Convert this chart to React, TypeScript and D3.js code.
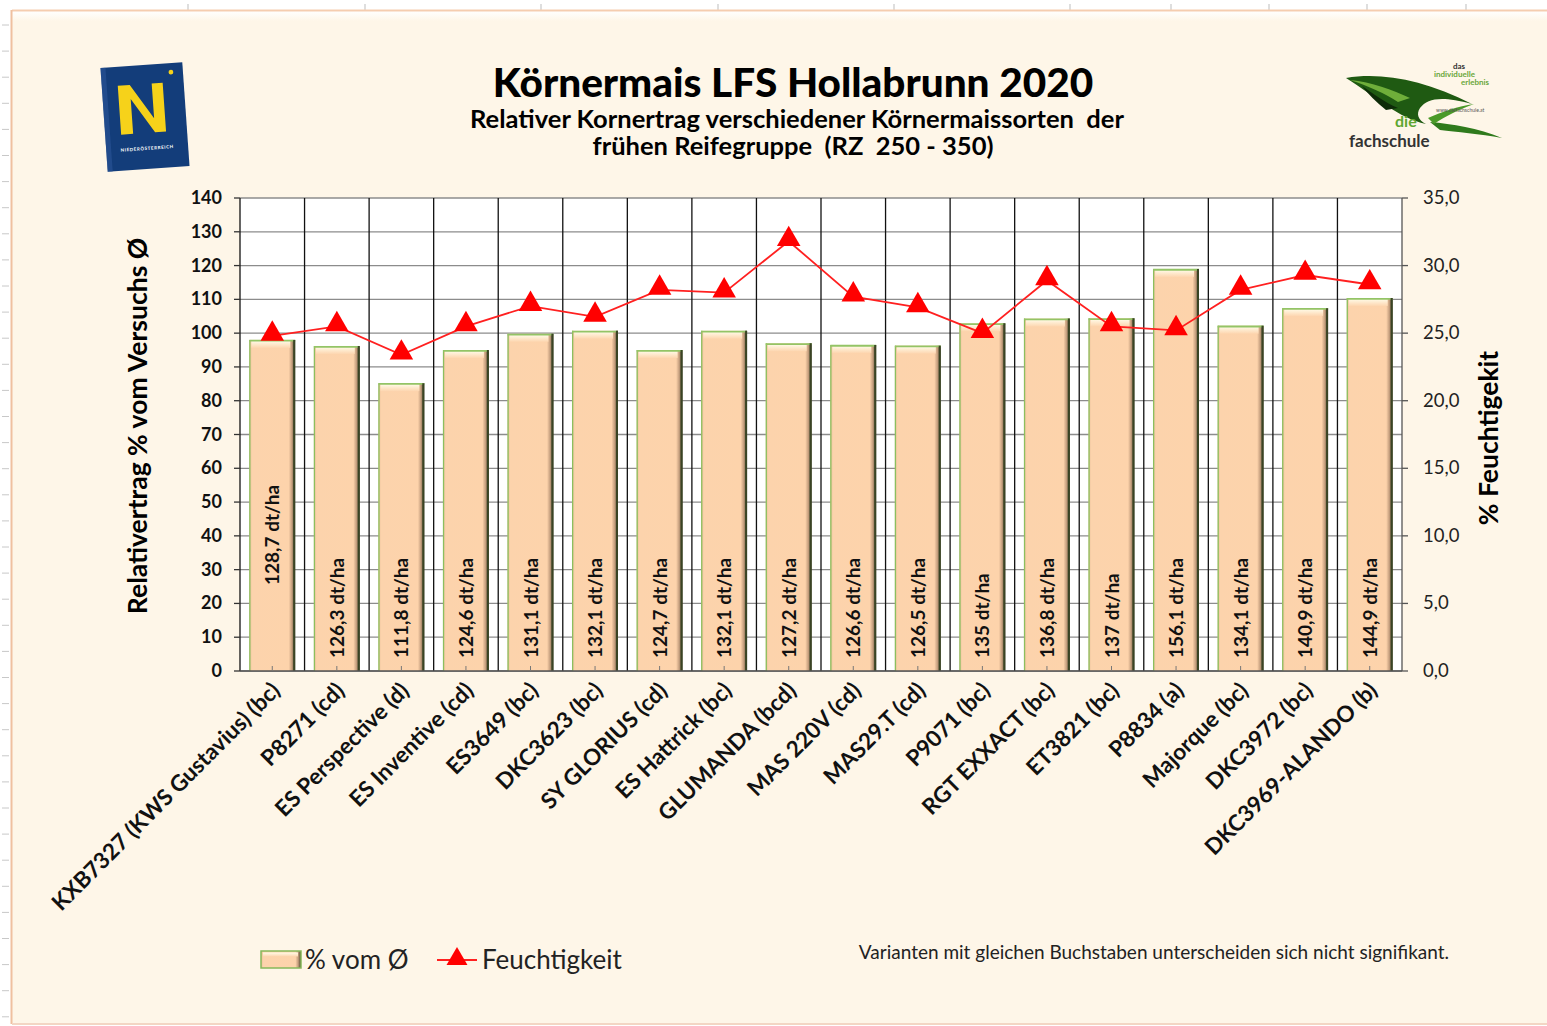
import React from "react";
import * as d3 from "d3";

const categories = [
  "KXB7327 (KWS Gustavius) (bc)", "P8271 (cd)", "ES Perspective (d)", "ES Inventive (cd)",
  "ES3649 (bc)", "DKC3623 (bc)", "SY GLORIUS (cd)", "ES Hattrick (bc)", "GLUMANDA (bcd)",
  "MAS 220V (cd)", "MAS29.T (cd)", "P9071 (bc)", "RGT EXXACT (bc)", "ET3821 (bc)",
  "P8834 (a)", "Majorque (bc)", "DKC3972 (bc)", "DKC3969-ALANDO (b)"
];
const relYield = [98.0, 96.2, 85.2, 95.0, 99.8, 100.7, 95.0, 100.7, 97.0, 96.5, 96.3, 102.9, 104.3, 104.4, 119.0, 102.2, 107.4, 110.4];
const moisture = [24.8, 25.5, 23.4, 25.5, 27.0, 26.2, 28.2, 28.0, 31.8, 27.7, 26.9, 25.0, 28.9, 25.5, 25.2, 28.2, 29.3, 28.6];
const yieldLabels = ["128,7 dt/ha", "126,3 dt/ha", "111,8 dt/ha", "124,6 dt/ha", "131,1 dt/ha", "132,1 dt/ha", "124,7 dt/ha", "132,1 dt/ha", "127,2 dt/ha", "126,6 dt/ha", "126,5 dt/ha", "135 dt/ha", "136,8 dt/ha", "137 dt/ha", "156,1 dt/ha", "134,1 dt/ha", "140,9 dt/ha", "144,9 dt/ha"];
const leftTicks = [0, 10, 20, 30, 40, 50, 60, 70, 80, 90, 100, 110, 120, 130, 140];
const rightTicks = [0, 5, 10, 15, 20, 25, 30, 35];

const FONT = "Lato, 'Open Sans', sans-serif";

export default function App() {
  const W = 1547, H = 1026;
  const left = 240, right = 1402, top = 198, bottom = 671;
  const x = d3.scaleBand<string>().domain(categories).range([left, right]).paddingInner(0).paddingOuter(0);
  const yL = d3.scaleLinear().domain([0, 140]).range([bottom, top]);
  const yR = d3.scaleLinear().domain([0, 35]).range([bottom, top]);
  const bw = x.bandwidth();
  const barW = bw * 0.71;
  const cx = (c: string) => (x(c) as number) + bw / 2;
  const line = d3.line<number>().x((_, i) => cx(categories[i])).y((d) => yR(d));
  const tri = d3.symbol().type(d3.symbolTriangle).size(240)() as string;
  const triSmall = d3.symbol().type(d3.symbolTriangle).size(190)() as string;
  const rulerY = d3.range(25, H, 26.1);
  const topTicks = [188, 365, 541, 718, 894, 1070, 1171, 1269, 1367, 1466];

  return (
    <svg width={W} height={H} style={{ position: "absolute", left: 0, top: 0, background: "#fff" }} fontFamily={FONT}>
      <defs>
        <linearGradient id="barBody" x1="0" x2="1" y1="0" y2="0">
          <stop offset="0" stopColor="#e9c09a" />
          <stop offset="0.06" stopColor="#fcd3ac" />
          <stop offset="0.86" stopColor="#fdd3ab" />
          <stop offset="0.93" stopColor="#c29c7c" />
          <stop offset="1" stopColor="#3e4024" />
        </linearGradient>
        <linearGradient id="barTop" x1="0" x2="0" y1="0" y2="1">
          <stop offset="0" stopColor="#fffbe8" />
          <stop offset="1" stopColor="#fdd6b0" />
        </linearGradient>
        <linearGradient id="bgTop" x1="0" x2="0" y1="0" y2="1">
          <stop offset="0" stopColor="#ffffff" />
          <stop offset="1" stopColor="#fef6e8" />
        </linearGradient>
      </defs>

      {/* page ruler */}
      {rulerY.map((y, i) => (
        <line key={"r" + i} x1={2} x2={9} y1={y} y2={y} stroke="#c8c8c8" strokeWidth={1} />
      ))}
      {topTicks.map((tx, i) => (
        <line key={"t" + i} x1={tx} x2={tx} y1={4} y2={10} stroke="#c8c8c8" strokeWidth={1.2} />
      ))}

      {/* chart frame */}
      <rect x={12} y={11} width={W - 12} height={1012} fill="#fef6e8" />
      <rect x={12} y={11} width={W - 12} height={10} fill="url(#bgTop)" />
      <line x1={12} x2={W} y1={10.5} y2={10.5} stroke="#f5cdb0" strokeWidth={2} />
      <line x1={11.5} x2={11.5} y1={10} y2={1024} stroke="#efc0a0" strokeWidth={2} />
      <line x1={12} x2={W} y1={1024} y2={1024} stroke="#f3d6c4" strokeWidth={2} />

      {/* NÖ logo */}
      <g transform="translate(145,117) rotate(-4)">
        <rect x={-41} y={-52} width={82} height={104} fill="#133d7a" />
        <rect x={-41} y={-52} width={5} height={104} fill="#2b5597" opacity={0.6} />
        <path d="M-25,-33 L-13,-33 L9,2 L9,-33 L20,-33 L20,16 L9,16 L-13,-19 L-13,16 L-25,16 Z" fill="#f6d21a" />
        <circle cx={29} cy={-43} r={2.4} fill="#f6d21a" />
        <text x={0} y={33} fontSize={4.5} fill="#ffffff" textAnchor="middle" letterSpacing={0.6} fontWeight={700}>NIEDERÖSTERREICH</text>
      </g>

      {/* die fachschule logo */}
      <g>
        <path d="M1346,78 C1382,72 1424,80 1472,104 C1442,96 1428,98 1420,108 C1416,114 1418,120 1426,124 C1398,118 1378,98 1346,78 Z" fill="#1f5a12" />
        <path d="M1350,80 C1372,82 1392,90 1410,98 L1398,102 C1386,94 1368,86 1350,80 Z" fill="#6fae3a" />
        <path d="M1362,86 C1374,94 1384,102 1398,108 L1386,110 C1376,102 1368,94 1362,86 Z" fill="#0d2b08" />
        <path d="M1430,122 C1452,124 1478,128 1502,138 C1480,134 1456,132 1440,130 Z" fill="#2f7a1c" />
        <path d="M1428,118 C1442,112 1458,106 1474,104 C1458,110 1446,116 1434,124 Z" fill="#4a9a28" />
        <text x={1453} y={69} fontSize={8} fill="#333" fontWeight={700}>das</text>
        <text x={1434} y={77} fontSize={8} fill="#6aa63a" fontWeight={700}>individuelle</text>
        <text x={1461} y={85} fontSize={8} fill="#6aa63a" fontWeight={700}>erlebnis</text>
        <text x={1436} y={112} fontSize={5} fill="#555">www.diefachschule.at</text>
        <text x={1395} y={127} fontSize={16} fill="#5fa732" fontWeight={700}>die</text>
        <text x={1349} y={147} fontSize={17} fill="#333" fontWeight={700}>fachschule</text>
      </g>

      {/* titles */}
      <text x={793} y={97} textAnchor="middle" fontSize={40.5} fontWeight={900} fill="#000">Körnermais LFS Hollabrunn 2020</text>
      <text x={797} y={128} textAnchor="middle" fontSize={25.5} fontWeight={700} fill="#000" style={{ whiteSpace: "pre" }}>Relativer Kornertrag verschiedener Körnermaissorten  der</text>
      <text x={793} y={155} textAnchor="middle" fontSize={25.5} fontWeight={700} fill="#000" style={{ whiteSpace: "pre" }}>frühen Reifegruppe  (RZ  250 - 350)</text>

      {/* plot area */}
      <rect x={left} y={top} width={right - left} height={bottom - top} fill="#ffffff" />
      {leftTicks.map((t) => (
        <line key={"g" + t} x1={left} x2={right} y1={yL(t)} y2={yL(t)} stroke="#8c8c8c" strokeWidth={1.3} />
      ))}
      {categories.slice(1).map((c) => (
        <line key={"v" + c} x1={x(c)} x2={x(c)} y1={top} y2={bottom} stroke="#111" strokeWidth={1.3} />
      ))}

      {/* bars */}
      {categories.map((c, i) => {
        const bx = cx(c) - barW / 2;
        const by = yL(relYield[i]);
        const h = bottom - by;
        return (
          <g key={"b" + c}>
            <rect x={bx} y={by} width={barW} height={h} fill="url(#barBody)" />
            <rect x={bx + 2} y={by + 1} width={barW - 7} height={7} fill="url(#barTop)" />
            <line x1={bx + 0.5} x2={bx + 0.5} y1={by} y2={bottom} stroke="#8cbf5e" strokeWidth={1.3} />
            <line x1={bx} x2={bx + barW} y1={by + 0.8} y2={by + 0.8} stroke="#93c466" strokeWidth={1.8} />
            <line x1={bx + barW - 1} x2={bx + barW - 1} y1={by} y2={bottom} stroke="#3a4424" strokeWidth={2} />
          </g>
        );
      })}
      {/* bar value labels */}
      {categories.map((c, i) => {
        const base = i === 0 ? 585 : 658;
        return (
          <text key={"l" + c} transform={`translate(${cx(c) + 7},${base}) rotate(-90)`} fontSize={19} fontWeight={700} fill="#111">
            {yieldLabels[i]}
          </text>
        );
      })}

      {/* axes */}
      <line x1={left} x2={left} y1={top} y2={bottom} stroke="#111" strokeWidth={1.3} />
      <line x1={right} x2={right} y1={top} y2={bottom} stroke="#555" strokeWidth={1.3} />
      <line x1={left} x2={right} y1={bottom} y2={bottom} stroke="#555" strokeWidth={1.5} />
      {categories.map((c) => (
        <line key={"xt" + c} x1={cx(c)} x2={cx(c)} y1={bottom} y2={bottom - 5} stroke="#777" strokeWidth={1} />
      ))}
      {leftTicks.map((t) => (
        <g key={"lt" + t}>
          <line x1={left - 6} x2={left} y1={yL(t)} y2={yL(t)} stroke="#333" strokeWidth={1.3} />
          <text x={222} y={yL(t) + 6} textAnchor="end" fontSize={18} fontWeight={700} fill="#111">{t}</text>
        </g>
      ))}
      {rightTicks.map((t) => (
        <g key={"rt" + t}>
          <line x1={right} x2={right + 6} y1={yR(t)} y2={yR(t)} stroke="#555" strokeWidth={1.3} />
          <text x={1423} y={yR(t) + 6} fontSize={18.5} fill="#222">{d3.format(".1f")(t).replace(".", ",")}</text>
        </g>
      ))}

      {/* moisture line */}
      <path d={line(moisture) as string} fill="none" stroke="#ff2020" strokeWidth={1.8} />
      {moisture.map((m, i) => (
        <path key={"m" + i} d={tri} transform={`translate(${cx(categories[i])},${yR(m) - 2})`} fill="#ff0000" />
      ))}

      {/* x labels */}
      {categories.map((c) => (
        <text key={"xl" + c} transform={`translate(${cx(c) + 9},${692}) rotate(-45)`} textAnchor="end" fontSize={22.5} fontWeight={700} fill="#111">
          {c}
        </text>
      ))}

      {/* axis titles */}
      <text transform="translate(147,426) rotate(-90)" textAnchor="middle" fontSize={26.5} fontWeight={700} fill="#000">Relativertrag %  vom Versuchs Ø</text>
      <text transform="translate(1498,438) rotate(-90)" textAnchor="middle" fontSize={26.5} fontWeight={700} fill="#000">% Feuchtigekit</text>

      {/* legend */}
      <g>
        <rect x={261} y={951} width={40} height={17} fill="url(#barBody)" stroke="#86b85a" strokeWidth={1.5} />
        <rect x={263} y={952.5} width={35} height={4} fill="url(#barTop)" />
        <text x={305} y={969} fontSize={26} fill="#222">% vom Ø</text>
        <line x1={437} x2={477} y1={960} y2={960} stroke="#ff2020" strokeWidth={1.8} />
        <path d={triSmall} transform="translate(457,959)" fill="#ff0000" />
        <text x={482} y={969} fontSize={26} fill="#222">Feuchtigkeit</text>
      </g>
      <text x={1449} y={959} textAnchor="end" fontSize={19} fill="#222">Varianten mit gleichen Buchstaben unterscheiden sich nicht signifikant.</text>
    </svg>
  );
}
